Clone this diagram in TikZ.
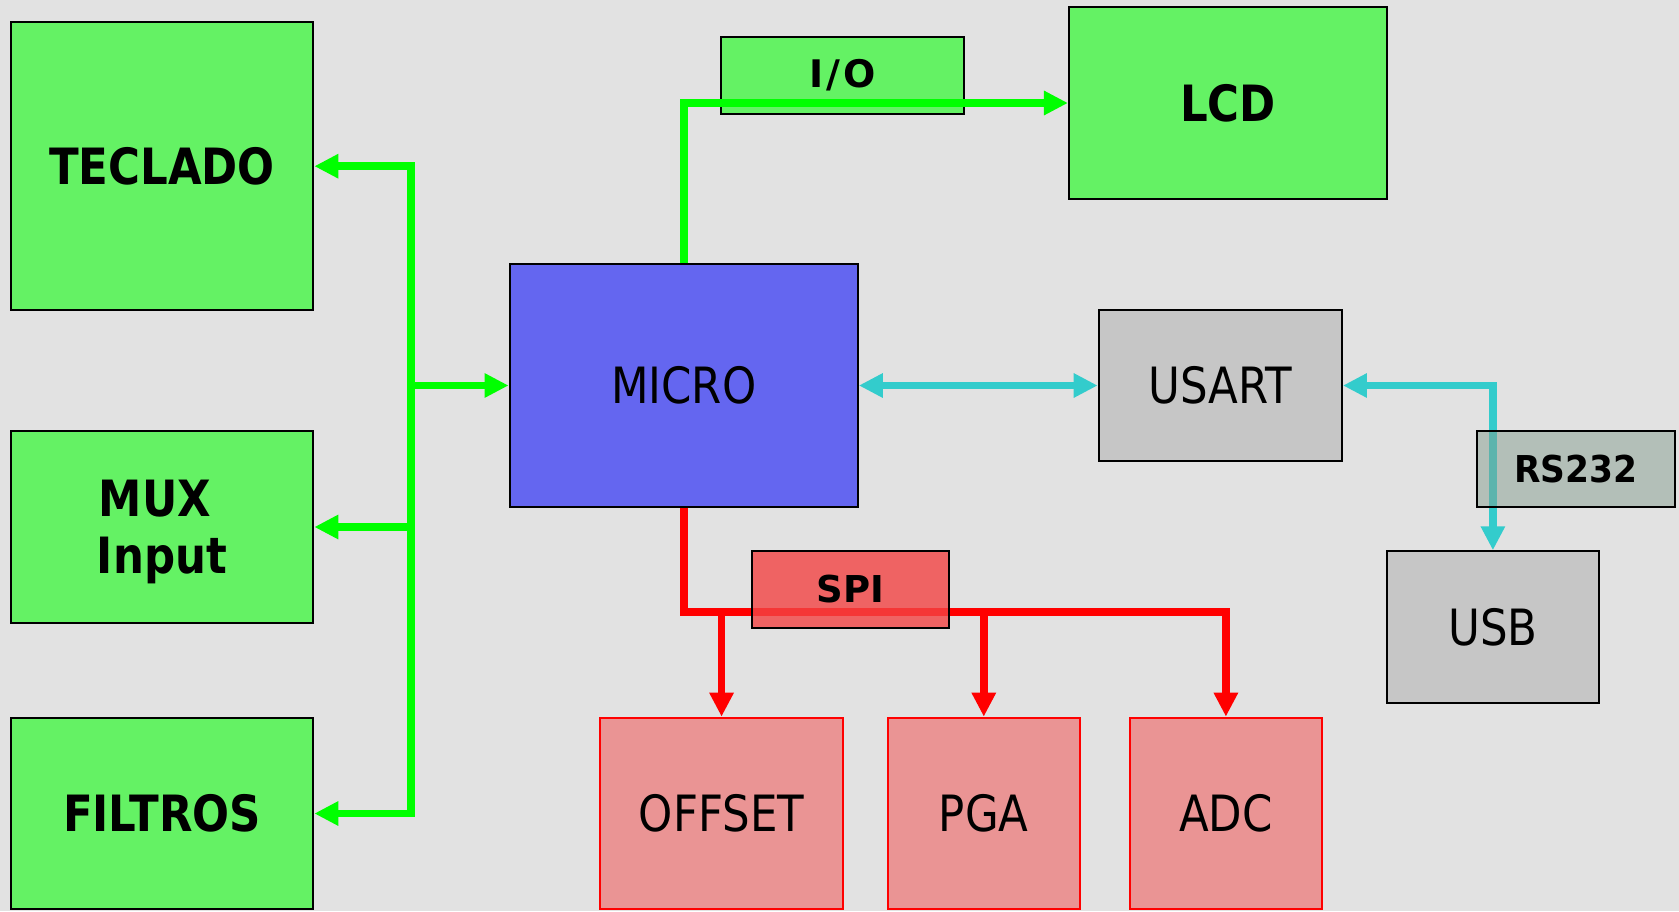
\documentclass[tikz,border=0pt]{standalone}
\usepackage{fontspec}
\setmainfont{DejaVu Sans}[FakeStretch=0.87]
\newfontfamily\widef{DejaVu Sans}
\newfontfamily\midf{DejaVu Sans}[FakeStretch=0.93]
\usetikzlibrary{arrows.meta}
\definecolor{bg}{RGB}{226,226,226}
\definecolor{boxgreen}{RGB}{100,242,100}
\definecolor{linegreen}{RGB}{0,255,0}
\definecolor{microblue}{RGB}{100,102,240}
\definecolor{boxgray}{RGB}{198,198,198}
\definecolor{rsgray}{RGB}{134,158,144}
\definecolor{linecyan}{RGB}{51,204,204}
\definecolor{linered}{RGB}{255,0,0}
\definecolor{spired}{RGB}{243,68,68}
\definecolor{boxred}{RGB}{234,148,148}
\begin{document}
\begin{tikzpicture}[x=1pt,y=-1pt,
  >={Triangle[length=24pt,width=23pt]},
  blk/.style={draw=black, line width=2.1pt, inner sep=0pt, align=center,
    font=\fontsize{50}{57}\selectfont},
  bigbold/.style={blk, fill=boxgreen, font=\fontsize{50}{57}\selectfont\bfseries},
  grayblk/.style={blk, fill=boxgray},
  redblk/.style={blk, draw=linered, fill=boxred},
  tag/.style={draw=black, line width=2.1pt, inner sep=0pt},
  gl/.style={draw=linegreen, line width=7.6pt},
  cl/.style={draw=linecyan, line width=7.6pt},
  rl/.style={draw=linered, line width=7.6pt}
]
\useasboundingbox (0,0) rectangle (1679,911);
\fill[bg] (0,0) rectangle (1679,911);

% main blocks
\node[bigbold, minimum width=302.6pt, minimum height=287.7pt] (tec) at (162,166.2) {TECLADO};
\node[bigbold, minimum width=302.6pt, minimum height=191.3pt, text depth=0pt] (mux) at (162,527) {MUX\hspace*{14pt}\\Input};
\node[bigbold, minimum width=302.6pt, minimum height=191.6pt] (fil) at (162,813.5) {FILTROS};
\node[blk, fill=microblue, minimum width=348.2pt, minimum height=242.4pt] (micro) at (683.7,385.5) {MICRO};
\node[bigbold, minimum width=318pt, minimum height=192.6pt] (lcd) at (1228,103) {LCD};
\node[grayblk, minimum width=243.2pt, minimum height=151.6pt] (usart) at (1220.3,385.5) {USART};
\node[grayblk, minimum width=212pt, minimum height=151.4pt] (usb) at (1492.9,627) {USB};
\node[redblk, minimum width=242.3pt, minimum height=191.6pt] (off) at (721.55,813.5) {OFFSET};
\node[redblk, minimum width=192pt, minimum height=191.6pt] (pga) at (983.8,813.5) {PGA};
\node[redblk, minimum width=192.4pt, minimum height=191.6pt] (adc) at (1225.9,813.5) {ADC};

% I/O tag (line drawn over it)
\node[tag, fill=boxgreen, minimum width=242.8pt, minimum height=76.7pt,
  font=\widef\fontsize{38}{42}\selectfont\bfseries] (io) at (842.4,75.35) {I\kern3pt/\kern3pt O};

% green bus
\coordinate (bt) at (411,166.2);
\draw[gl, <->] (tec.east) -- (bt) |- (fil.east);
\draw[gl, ->] (bt |- mux.east) -- (mux.east);
\draw[gl, ->] (bt |- micro.west) -- (micro.west);
\draw[gl, ->] (micro.north) |- (lcd.west);

% cyan links
\draw[cl, <->] (micro.east) -- (usart.west);
\draw[cl, <->] (usart.east) -| (usb.north);

% red SPI bus
\coordinate (rc) at (1225.9,612);
\draw[rl, ->] (micro.south) |- (rc) -- (adc.north);
\draw[rl, ->] (off.north |- rc) -- (off.north);
\draw[rl, ->] (pga.north |- rc) -- (pga.north);

% semi-transparent tags over lines
\node[tag, fill=spired, fill opacity=0.8, text opacity=1, minimum width=196.9pt, minimum height=76.4pt,
  font=\widef\fontsize{37}{40}\selectfont\bfseries] (spi) at (850.45,589.5) {SPI};
\node[tag, fill=rsgray, fill opacity=0.5, text opacity=1, minimum width=197.4pt, minimum height=76pt,
  font=\midf\fontsize{37}{40}\selectfont\bfseries] (rs) at (1576,468.7) {RS232};
\end{tikzpicture}
\end{document}
